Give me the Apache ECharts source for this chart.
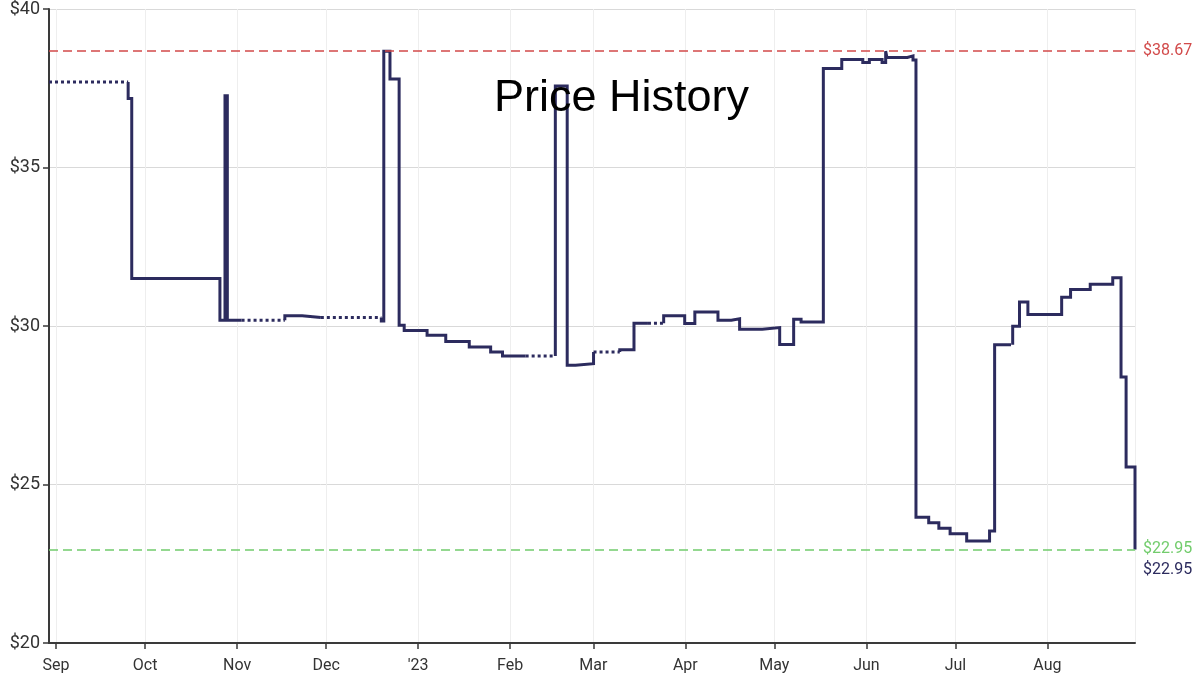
<!DOCTYPE html>
<html>
<head>
<meta charset="utf-8">
<script src="https://cdn.jsdelivr.net/npm/echarts@6/dist/echarts.min.js"></script>
<style>
html,body{margin:0;padding:0;background:#fff;}
#chart{width:1200px;height:681px;}
</style>
</head>
<body>
<div id="chart"></div>
<script>
const monthNames = ['Jan','Feb','Mar','Apr','May','Jun','Jul','Aug','Sep','Oct','Nov','Dec'];
const chartTitle = 'Price History';
const xMin = '2022-08-29 15:00';
const xMax = '2023-08-30 12:00';
const yMin = 20, yMax = 40, yStep = 5;
const highPrice = 38.67;
const lowPrice = 22.95;
const lastPrice = 22.95;

const dates = [
  '2022-08-29 15:00','2022-09-25 07:00','2022-09-26 12:00','2022-10-26 05:00','2022-10-27 22:00',
  '2022-10-28 17:00','2022-11-02 12:00','2022-11-17 02:00','2022-11-22 22:00','2022-11-29 05:00',
  '2022-12-19 14:00','2022-12-20 10:00','2022-12-22 12:00','2022-12-25 14:00','2022-12-27 07:00',
  '2023-01-04 00:00','2023-01-10 07:00','2023-01-18 05:00','2023-01-25 10:00','2023-01-29 10:00',
  '2023-02-06 05:00','2023-02-16 05:00','2023-02-20 05:00','2023-02-23 00:00','2023-03-01 02:00',
  '2023-03-09 22:00','2023-03-14 17:00','2023-03-19 10:00','2023-03-24 17:00','2023-03-31 19:00',
  '2023-04-04 05:00','2023-04-12 00:00','2023-04-16 12:00','2023-04-19 07:00','2023-04-26 22:00',
  '2023-05-02 19:00','2023-05-07 12:00','2023-05-10 00:00','2023-05-17 12:00','2023-05-23 17:00',
  '2023-05-30 19:00','2023-06-02 00:00','2023-06-06 07:00','2023-06-07 12:00','2023-06-07 22:00',
  '2023-06-14 19:00','2023-06-16 17:00','2023-06-17 17:00','2023-06-22 00:00','2023-06-25 10:00',
  '2023-06-29 05:00','2023-07-04 19:00','2023-07-12 12:00','2023-07-14 05:00','2023-07-18 17:00',
  '2023-07-20 07:00','2023-07-22 14:00','2023-07-25 10:00','2023-08-05 19:00','2023-08-08 19:00',
  '2023-08-15 10:00','2023-08-23 00:00','2023-08-25 19:00','2023-08-27 12:00','2023-08-30 12:00'
];
const prices = [
  37.70,37.18,31.50,30.18,37.26,
  30.18,30.18,30.32,30.27,30.27,
  30.16,38.67,37.79,30.02,29.86,
  29.71,29.51,29.34,29.18,29.05,
  29.05,37.57,28.76,28.81,29.18,
  29.25,30.09,30.09,30.32,30.08,
  30.44,30.18,30.23,29.90,29.95,
  29.42,30.21,30.13,38.12,38.41,
  38.31,38.41,38.31,38.67,38.47,
  38.52,38.39,23.97,23.79,23.62,
  23.45,23.22,23.53,29.41,29.41,
  29.99,30.76,30.36,30.91,31.15,
  31.32,31.52,28.39,25.55,22.95
];
// indices after which the price is unknown (drawn dotted)
const gapAfter = [0,6,9,20,24,27,54];

const solidData = [];
const dottedData = [];
for (let i = 0; i < dates.length; i++) {
  solidData.push([dates[i], prices[i]]);
  if (gapAfter.indexOf(i) >= 0 && i + 1 < dates.length) {
    solidData.push([dates[i], '-']);
    solidData.push([dates[i + 1], prices[i]]);
    dottedData.push([dates[i], prices[i]]);
    dottedData.push([dates[i + 1], prices[i]]);
    dottedData.push([dates[i + 1], '-']);
  }
}

const lineColor = '#2c2b5e';
const redColor = '#d24a4a';
const greenColor = '#72cc6c';
const fontFam = 'Roboto, sans-serif';

const chart = echarts.init(document.getElementById('chart'), null, {renderer: 'canvas'});
chart.setOption({
  animation: false,
  backgroundColor: '#ffffff',
  title: {
    text: chartTitle,
    left: 489,
    top: 71,
    textStyle: {fontFamily: 'Liberation Sans, Arial, sans-serif', fontSize: 45, fontWeight: 'normal', color: '#000'}
  },
  grid: {left: 49, right: 65, top: 9, bottom: 38, containLabel: false},
  xAxis: {
    type: 'time',
    min: xMin,
    max: xMax,
    splitNumber: 12,
    axisLine: {show: true, lineStyle: {color: '#3a3a3a', width: 2}},
    axisTick: {show: true, length: 6, lineStyle: {color: '#3a3a3a', width: 1.5}},
    splitLine: {show: true, lineStyle: {color: '#eeeeee', width: 1}},
    axisLabel: {
      showMinLabel: false,
      showMaxLabel: false,
      margin: 15,
      color: '#333',
      fontFamily: fontFam,
      fontSize: 16,
      formatter: function (value) {
        const d = new Date(value);
        const m = d.getMonth();
        if (m === 0) return "'" + String(d.getFullYear()).slice(2);
        return monthNames[m];
      }
    }
  },
  yAxis: {
    type: 'value',
    min: yMin,
    max: yMax,
    interval: yStep,
    axisLine: {show: true, lineStyle: {color: '#3a3a3a', width: 2}},
    axisTick: {show: true, length: 6, lineStyle: {color: '#3a3a3a', width: 1.5}},
    splitLine: {show: true, lineStyle: {color: '#d9d9d9', width: 1}},
    axisLabel: {
      margin: 9,
      color: '#333',
      fontFamily: fontFam,
      fontSize: 18,
      formatter: function (v) { return '$' + v; }
    }
  },
  series: [
    {
      type: 'line',
      step: 'end',
      data: dottedData,
      showSymbol: false,
      connectNulls: false,
      silent: true,
      lineStyle: {color: lineColor, width: 3, type: [3, 3]},
      z: 3
    },
    {
      type: 'line',
      step: 'end',
      data: solidData,
      showSymbol: false,
      connectNulls: false,
      silent: true,
      lineStyle: {color: lineColor, width: 3, join: 'miter'},
      endLabel: {
        show: true,
        formatter: '$' + lastPrice.toFixed(2),
        color: lineColor,
        fontFamily: fontFam,
        fontSize: 16,
        distance: 8,
        offset: [0, 21]
      },
      markLine: {
        silent: true,
        symbol: 'none',
        animation: false,
        data: [
          {yAxis: highPrice, lineStyle: {color: redColor, type: [9, 5], width: 1.5},
           label: {show: true, position: 'end', distance: 8, formatter: '$' + highPrice.toFixed(2), color: redColor, fontFamily: fontFam, fontSize: 16}},
          {yAxis: lowPrice, lineStyle: {color: greenColor, type: [9, 5], width: 1.5},
           label: {show: true, position: 'end', distance: 8, formatter: '$' + lowPrice.toFixed(2), color: greenColor, fontFamily: fontFam, fontSize: 16}}
        ]
      },
      z: 4
    }
  ]
});
</script>
</body>
</html>
